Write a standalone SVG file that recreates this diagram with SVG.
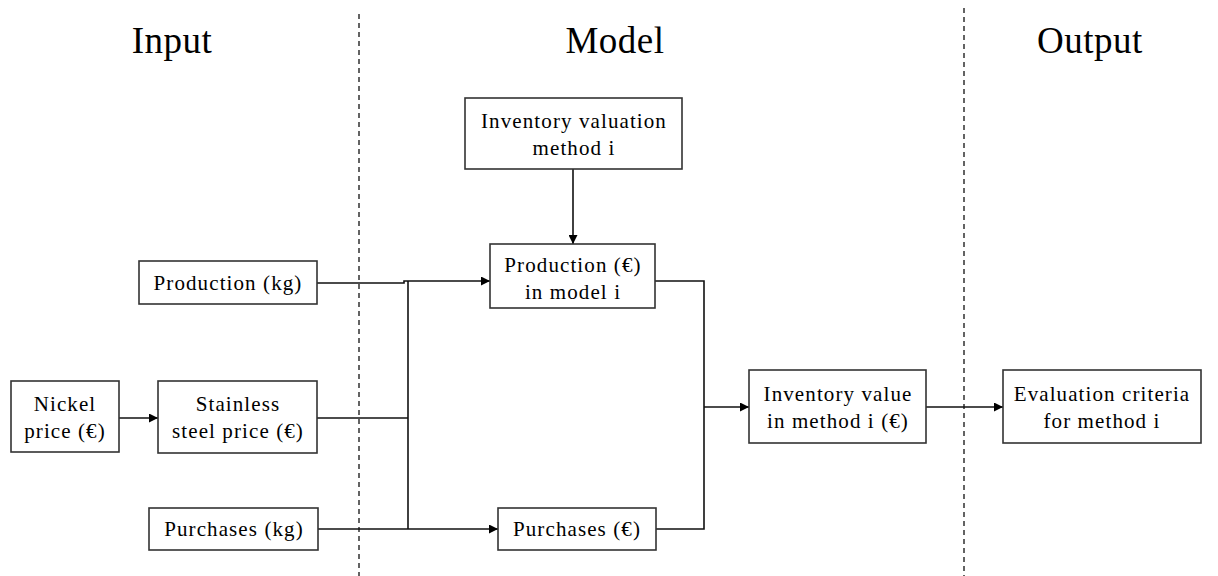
<svg xmlns="http://www.w3.org/2000/svg" width="1218" height="576" viewBox="0 0 1218 576">
<style>
.box{fill:#fff;stroke:#333;stroke-width:1.6}
.t{font-family:"Liberation Serif","Times New Roman",serif;font-size:21px;letter-spacing:1.1px;text-anchor:middle;fill:#000}
.title{font-family:"Liberation Serif","Times New Roman",serif;font-size:37px;text-anchor:middle;fill:#000;letter-spacing:0.5px}
.c{fill:none;stroke:#111;stroke-width:1.6}
.dash{fill:none;stroke:#222;stroke-width:1.4;stroke-dasharray:5 4}
</style>
<defs>
<marker id="ah" viewBox="0 0 10 10" refX="10" refY="5" markerWidth="11" markerHeight="9" markerUnits="userSpaceOnUse" orient="auto">
<path d="M0,0 L10,5 L0,10 z" fill="#000"/>
</marker>
</defs>
<rect width="1218" height="576" fill="#fff"/>
<g id="separators">
<line class="dash" x1="359" y1="14" x2="359" y2="576"/>
<line class="dash" x1="964" y1="8" x2="964" y2="576"/>
</g>
<g id="titles">
<text class="title" x="172" y="53">Input</text>
<text class="title" x="615" y="53">Model</text>
<text class="title" x="1090" y="53">Output</text>
</g>
<g id="connectors">
<polyline class="c" points="317,283 404,283 404,281 490,281" marker-end="url(#ah)"/>
<line class="c" x1="317" y1="418" x2="408" y2="418"/>
<line class="c" x1="318" y1="529" x2="498" y2="529" marker-end="url(#ah)"/>
<line class="c" x1="408" y1="281" x2="408" y2="529"/>
<line class="c" x1="119" y1="418" x2="158" y2="418" marker-end="url(#ah)"/>
<line class="c" x1="573" y1="169" x2="573" y2="244" marker-end="url(#ah)"/>
<polyline class="c" points="655,281 704,281 704,529 656,529"/>
<line class="c" x1="704" y1="407" x2="749" y2="407" marker-end="url(#ah)"/>
<line class="c" x1="926" y1="407" x2="1003" y2="407" marker-end="url(#ah)"/>
</g>
<g id="n-inv-method">
<rect class="box" x="465" y="98" width="217" height="71"/>
<text class="t" x="574" y="128">Inventory valuation</text>
<text class="t" x="574" y="155">method i</text>
</g>
<g id="n-prod-kg">
<rect class="box" x="139" y="261" width="178" height="43"/>
<text class="t" x="228" y="290">Production (kg)</text>
</g>
<g id="n-prod-eur">
<rect class="box" x="490" y="244" width="165" height="64"/>
<text class="t" x="573" y="272">Production (€)</text>
<text class="t" x="573" y="299">in model i</text>
</g>
<g id="n-nickel">
<rect class="box" x="11" y="381" width="108" height="71"/>
<text class="t" x="65" y="411">Nickel</text>
<text class="t" x="65" y="438">price (€)</text>
</g>
<g id="n-stainless">
<rect class="box" x="158" y="381" width="159" height="72"/>
<text class="t" x="238" y="411">Stainless</text>
<text class="t" x="238" y="438">steel price (€)</text>
</g>
<g id="n-purch-kg">
<rect class="box" x="149" y="508" width="169" height="42"/>
<text class="t" x="234" y="536">Purchases (kg)</text>
</g>
<g id="n-purch-eur">
<rect class="box" x="498" y="508" width="158" height="42"/>
<text class="t" x="577" y="536">Purchases (€)</text>
</g>
<g id="n-inv-value">
<rect class="box" x="749" y="370" width="177" height="73"/>
<text class="t" x="838" y="401">Inventory value</text>
<text class="t" x="838" y="428">in method i (€)</text>
</g>
<g id="n-eval">
<rect class="box" x="1003" y="370" width="198" height="73"/>
<text class="t" x="1102" y="401">Evaluation criteria</text>
<text class="t" x="1102" y="428">for method i</text>
</g>
</svg>
